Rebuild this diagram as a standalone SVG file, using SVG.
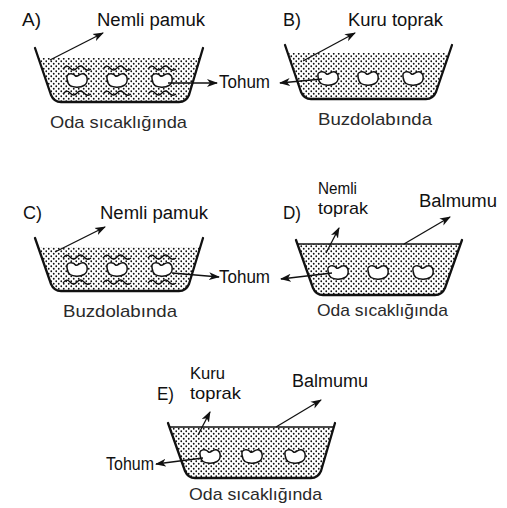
<svg xmlns="http://www.w3.org/2000/svg" xmlns:xlink="http://www.w3.org/1999/xlink" width="507" height="508" viewBox="0 0 507 508">
  <style>
    text { font-family: "Liberation Sans", Arial, sans-serif; font-size: 18px; fill: #111; }
    .cap { fill: #2a2a2a; font-size: 17px; }
    .two { font-size: 17px; }
    .wall { fill: none; stroke: #111; stroke-width: 2.3; stroke-linejoin: round; stroke-linecap: round; }
    .rim { fill: none; stroke: #111; stroke-width: 1.4; }
    .soil { fill: url(#dots); stroke: none; }
    .ptr { fill: none; stroke: #111; stroke-width: 1.3; marker-end: url(#head); }
    .bean { fill: #fff; stroke: #111; stroke-width: 1.5; }
    .wave { fill: none; stroke: #111; stroke-width: 1.3; }
  </style>
  <defs>
    <pattern id="dots" width="5" height="5" patternUnits="userSpaceOnUse">
      <circle cx="1.25" cy="1.25" r="0.9" fill="#111"/>
      <circle cx="3.75" cy="3.75" r="0.9" fill="#111"/>
    </pattern>
    <marker id="head" markerWidth="11" markerHeight="9" refX="10" refY="4.5" orient="auto" markerUnits="userSpaceOnUse">
      <path d="M0,0.5 L11,4.5 L0,8.5 L3,4.5 Z" fill="#111"/>
    </marker>
    <path id="beanShape" d="M-10,-1.5 C-11,-7 -4,-7.5 -1.5,-4 C1,-2.5 3,-7.5 7,-6 C11,-4.5 11.5,3 7,5.5 C3,8 -4,7.5 -7,5.5 C-9.5,4 -9.5,1.5 -10,-1.5 Z"/>
    <path id="waveShape" d="M-14,1 q3.5,-5 7,-1 t7,0 t7,0 t7,1"/>
    <clipPath id="clipA"><rect x="0" y="58" width="507" height="60"/></clipPath>
    <clipPath id="clipB"><rect x="0" y="53" width="507" height="60"/></clipPath>
    <clipPath id="clipC"><rect x="0" y="247" width="507" height="60"/></clipPath>
    <clipPath id="clipD"><rect x="0" y="244" width="507" height="60"/></clipPath>
    <clipPath id="clipE"><rect x="0" y="427" width="507" height="60"/></clipPath>
  </defs>

  <!-- A: moist cotton, room temperature -->
  <g id="panelA">
    <path class="soil" clip-path="url(#clipA)" d="M35,48 L51,95 Q54,102 61,102 L179,102 Q186,102 189,95 L203,48 Z"/>
    <g class="wave">
      <use xlink:href="#waveShape" transform="translate(77,68)"/>
      <use xlink:href="#waveShape" transform="translate(77,93)"/>
      <use xlink:href="#waveShape" transform="translate(117,68)"/>
      <use xlink:href="#waveShape" transform="translate(117,93)"/>
      <use xlink:href="#waveShape" transform="translate(162,68)"/>
      <use xlink:href="#waveShape" transform="translate(162,93)"/>
    </g>
    <g class="bean">
      <use xlink:href="#beanShape" transform="translate(77,80)"/>
      <use xlink:href="#beanShape" transform="translate(117,80)"/>
      <use xlink:href="#beanShape" transform="translate(162,80)"/>
    </g>
    <path class="wall" d="M35,48 L51,95 Q54,102 61,102 L179,102 Q186,102 189,95 L203,48"/>
    <text x="22" y="26" textLength="19" lengthAdjust="spacingAndGlyphs">A)</text>
    <text x="97" y="26" textLength="108" lengthAdjust="spacingAndGlyphs">Nemli pamuk</text>
    <text class="cap" x="50" y="128" textLength="137" lengthAdjust="spacingAndGlyphs">Oda sıcaklığında</text>
  </g>

  <!-- B: dry soil, refrigerator -->
  <g id="panelB">
    <path class="soil" clip-path="url(#clipB)" d="M285,45 L301,92 Q304,99 311,99 L426,99 Q433,99 436,92 L452,45 Z"/>
    <g class="bean">
      <use xlink:href="#beanShape" transform="translate(328,78)"/>
      <use xlink:href="#beanShape" transform="translate(368,78)"/>
      <use xlink:href="#beanShape" transform="translate(413,78)"/>
    </g>
    <path class="wall" d="M285,45 L301,92 Q304,99 311,99 L426,99 Q433,99 436,92 L452,45"/>
    <text x="283" y="26" textLength="18" lengthAdjust="spacingAndGlyphs">B)</text>
    <text x="348" y="26" textLength="95" lengthAdjust="spacingAndGlyphs">Kuru toprak</text>
    <text class="cap" x="318" y="125" textLength="114" lengthAdjust="spacingAndGlyphs">Buzdolabında</text>
  </g>

  <!-- shared seed label, top row -->
  <g id="seedTop">
    <text x="219" y="88" textLength="51" lengthAdjust="spacingAndGlyphs">Tohum</text>
  </g>

  <!-- C: moist cotton, refrigerator -->
  <g id="panelC">
    <path class="soil" clip-path="url(#clipC)" d="M35,238 L51,284 Q54,291 61,291 L179,291 Q186,291 189,284 L203,238 Z"/>
    <g class="wave">
      <use xlink:href="#waveShape" transform="translate(77,257)"/>
      <use xlink:href="#waveShape" transform="translate(77,282)"/>
      <use xlink:href="#waveShape" transform="translate(117,257)"/>
      <use xlink:href="#waveShape" transform="translate(117,282)"/>
      <use xlink:href="#waveShape" transform="translate(162,257)"/>
      <use xlink:href="#waveShape" transform="translate(162,282)"/>
    </g>
    <g class="bean">
      <use xlink:href="#beanShape" transform="translate(77,269)"/>
      <use xlink:href="#beanShape" transform="translate(117,269)"/>
      <use xlink:href="#beanShape" transform="translate(162,269)"/>
    </g>
    <path class="wall" d="M35,238 L51,284 Q54,291 61,291 L179,291 Q186,291 189,284 L203,238"/>
    <text x="23" y="219" textLength="19" lengthAdjust="spacingAndGlyphs">C)</text>
    <text x="100" y="219" textLength="108" lengthAdjust="spacingAndGlyphs">Nemli pamuk</text>
    <text class="cap" x="63" y="317" textLength="114" lengthAdjust="spacingAndGlyphs">Buzdolabında</text>
  </g>

  <!-- D: moist soil sealed with wax, room temperature -->
  <g id="panelD">
    <path class="soil" clip-path="url(#clipD)" d="M296,240 L313,288 Q316,295 323,295 L435,295 Q442,295 445,288 L462,240 Z"/>
    <line class="rim" x1="297" y1="244" x2="461" y2="244"/>
    <g class="bean">
      <use xlink:href="#beanShape" transform="translate(338,272)"/>
      <use xlink:href="#beanShape" transform="translate(378,272)"/>
      <use xlink:href="#beanShape" transform="translate(423,272)"/>
    </g>
    <path class="wall" d="M296,240 L313,288 Q316,295 323,295 L435,295 Q442,295 445,288 L462,240"/>
    <text x="283" y="219" textLength="18" lengthAdjust="spacingAndGlyphs">D)</text>
    <text class="two" x="318" y="194" textLength="39" lengthAdjust="spacingAndGlyphs">Nemli</text>
    <text class="two" x="318" y="214" textLength="50" lengthAdjust="spacingAndGlyphs">toprak</text>
    <text x="419" y="207" textLength="78" lengthAdjust="spacingAndGlyphs">Balmumu</text>
    <text class="cap" x="317" y="316" textLength="131" lengthAdjust="spacingAndGlyphs">Oda sıcaklığında</text>
  </g>

  <!-- shared seed label, middle row -->
  <g id="seedMid">
    <text x="219" y="283" textLength="51" lengthAdjust="spacingAndGlyphs">Tohum</text>
  </g>

  <!-- E: dry soil sealed with wax, room temperature -->
  <g id="panelE">
    <path class="soil" clip-path="url(#clipE)" d="M168,423 L185,471 Q188,478 195,478 L311,478 Q318,478 321,471 L335,423 Z"/>
    <line class="rim" x1="169" y1="427" x2="334" y2="427"/>
    <g class="bean">
      <use xlink:href="#beanShape" transform="translate(210,456)"/>
      <use xlink:href="#beanShape" transform="translate(252,456)"/>
      <use xlink:href="#beanShape" transform="translate(295,456)"/>
    </g>
    <path class="wall" d="M168,423 L185,471 Q188,478 195,478 L311,478 Q318,478 321,471 L335,423"/>
    <text x="157" y="400" textLength="17" lengthAdjust="spacingAndGlyphs">E)</text>
    <text class="two" x="190" y="379" textLength="35" lengthAdjust="spacingAndGlyphs">Kuru</text>
    <text class="two" x="190" y="399" textLength="51" lengthAdjust="spacingAndGlyphs">toprak</text>
    <text x="292" y="387" textLength="76" lengthAdjust="spacingAndGlyphs">Balmumu</text>
    <text x="106" y="470" textLength="48" lengthAdjust="spacingAndGlyphs">Tohum</text>
    <text class="cap" x="189" y="500" textLength="133" lengthAdjust="spacingAndGlyphs">Oda sıcaklığında</text>
  </g>

  <!-- leader lines -->
  <g id="connectors">
    <path class="ptr" d="M50,60 L103,33"/>
    <path class="ptr" d="M168,83 L217,83"/>
    <path class="ptr" d="M303,61 L355,33"/>
    <path class="ptr" d="M322,79 L280,83"/>
    <path class="ptr" d="M55,252 L105,227"/>
    <path class="ptr" d="M172,273 L219,277"/>
    <path class="ptr" d="M326,253 L339,228"/>
    <path class="ptr" d="M404,244 L450,217"/>
    <path class="ptr" d="M332,273 L281,279"/>
    <path class="ptr" d="M198,435 L210,412"/>
    <path class="ptr" d="M276,427 L321,400"/>
    <path class="ptr" d="M203,458 L156,464"/>
  </g>
</svg>
